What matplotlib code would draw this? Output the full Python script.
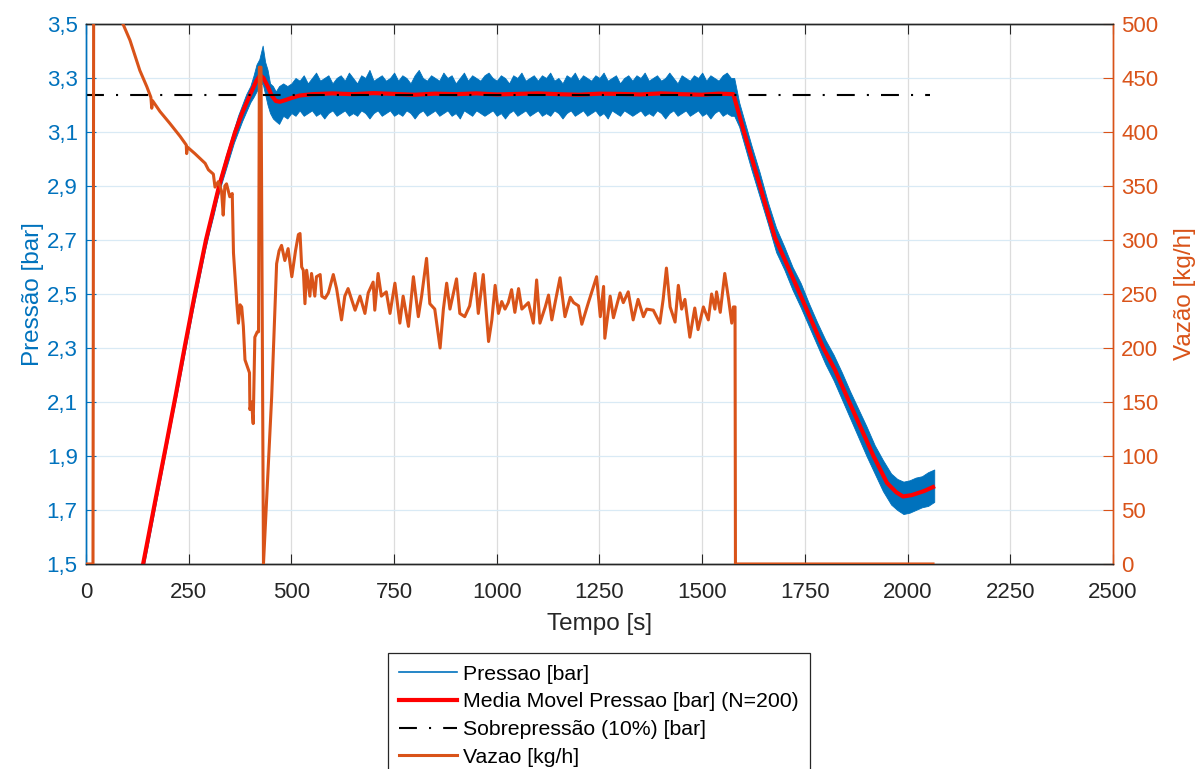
import matplotlib
matplotlib.use("Agg")
import matplotlib.pyplot as plt
from matplotlib.lines import Line2D
from matplotlib.ticker import FuncFormatter, MultipleLocator
import numpy as np

plt.rcParams['font.family'] = ['Liberation Sans', 'DejaVu Sans']

BLUE = '#0072BD'
ORANGE = '#D95319'
DARK = '#262626'

# ---- Pressure: raw signal envelope (upper / lower) ----
t_env = ([139, 150, 160, 170, 180, 190, 200, 210, 220, 230, 240, 250, 260, 270,
          280, 290, 300, 310, 320, 330, 340, 350, 360, 370, 380, 390, 400,
          408, 415, 422, 430, 436, 442, 448, 455, 462, 470, 480, 490]
         + list(range(500, 1571, 10))
         + [1578, 1590, 1605, 1620, 1640, 1660, 1680, 1700, 1720, 1740,
            1760, 1780, 1800, 1820, 1840, 1860, 1880, 1900, 1920, 1940, 1960,
            1975, 1990, 2005, 2020, 2035, 2050, 2065])

p_hi = ([1.52, 1.61, 1.69, 1.765, 1.845, 1.925, 2.005, 2.085, 2.165, 2.245, 2.32,
         2.40, 2.48, 2.56, 2.63, 2.71, 2.77, 2.84, 2.90, 2.955, 3.01, 3.06, 3.11,
         3.16, 3.20, 3.24, 3.27,
         3.31, 3.35, 3.37, 3.42, 3.36, 3.33, 3.28, 3.27, 3.25, 3.27, 3.28, 3.27]
        + [3.28, 3.30, 3.29, 3.31, 3.28, 3.30, 3.32, 3.29, 3.30, 3.31, 3.28, 3.30,
           3.31, 3.29, 3.32, 3.30, 3.28, 3.31, 3.30, 3.33, 3.29, 3.30, 3.31, 3.29,
           3.30, 3.32, 3.29, 3.31, 3.30, 3.28, 3.31, 3.33, 3.30, 3.29, 3.31, 3.30,
           3.29, 3.32, 3.30, 3.31, 3.28, 3.30, 3.32, 3.29, 3.31, 3.30, 3.29, 3.31,
           3.32, 3.30, 3.29, 3.31, 3.30, 3.28, 3.31, 3.30, 3.32, 3.29, 3.30, 3.31,
           3.29, 3.31, 3.30, 3.32, 3.29, 3.30, 3.28, 3.31, 3.30, 3.32, 3.29, 3.31,
           3.30, 3.29, 3.31, 3.30, 3.32, 3.29, 3.30, 3.31, 3.28, 3.30, 3.31, 3.29,
           3.31, 3.30, 3.32, 3.29, 3.30, 3.31, 3.29, 3.30, 3.32, 3.30, 3.28, 3.31,
           3.30, 3.29, 3.31, 3.30, 3.32, 3.29, 3.31, 3.30, 3.29, 3.31, 3.32, 3.30]
        + [3.30, 3.21, 3.13, 3.05, 2.95, 2.84, 2.745, 2.675, 2.60, 2.54,
           2.465, 2.395, 2.33, 2.275, 2.21, 2.14, 2.075, 2.01, 1.94, 1.885, 1.835,
           1.815, 1.805, 1.81, 1.82, 1.825, 1.84, 1.85])

p_lo = ([1.48, 1.565, 1.645, 1.725, 1.805, 1.885, 1.965, 2.045, 2.12, 2.20, 2.28,
         2.36, 2.44, 2.515, 2.59, 2.665, 2.73, 2.79, 2.855, 2.91, 2.96, 3.01, 3.06,
         3.10, 3.14, 3.175, 3.21,
         3.23, 3.25, 3.27, 3.28, 3.24, 3.20, 3.17, 3.15, 3.14, 3.13, 3.16, 3.15]
        + [3.17, 3.16, 3.18, 3.16, 3.17, 3.18, 3.16, 3.17, 3.15, 3.17, 3.18, 3.16,
           3.17, 3.18, 3.16, 3.17, 3.16, 3.18, 3.17, 3.15, 3.17, 3.18, 3.16, 3.17,
           3.18, 3.16, 3.17, 3.16, 3.18, 3.17, 3.15, 3.17, 3.18, 3.16, 3.17, 3.18,
           3.16, 3.17, 3.18, 3.16, 3.17, 3.15, 3.18, 3.17, 3.16, 3.18, 3.17, 3.16,
           3.17, 3.18, 3.16, 3.17, 3.15, 3.17, 3.18, 3.16, 3.17, 3.18, 3.16, 3.17,
           3.18, 3.16, 3.17, 3.16, 3.18, 3.17, 3.15, 3.17, 3.18, 3.16, 3.17, 3.18,
           3.16, 3.17, 3.18, 3.16, 3.17, 3.15, 3.18, 3.17, 3.16, 3.18, 3.17, 3.16,
           3.17, 3.18, 3.16, 3.17, 3.16, 3.18, 3.17, 3.15, 3.17, 3.18, 3.16, 3.17,
           3.18, 3.16, 3.17, 3.18, 3.16, 3.17, 3.15, 3.17, 3.18, 3.16, 3.17, 3.16]
        + [3.16, 3.12, 3.04, 2.96, 2.86, 2.76, 2.655, 2.59, 2.515, 2.45,
           2.38, 2.31, 2.24, 2.18, 2.11, 2.04, 1.97, 1.90, 1.835, 1.77, 1.72,
           1.70, 1.685, 1.69, 1.70, 1.71, 1.715, 1.73])

# ---- Moving average of pressure (N=200) ----
t_ma = [139, 170, 195, 219, 241, 265, 292, 324, 345, 363, 380, 400, 415, 424,
        432, 442, 452, 462, 472, 485, 500, 520, 550, 600, 650, 700, 750, 800,
        850, 900, 950, 1000, 1050, 1100, 1150, 1200, 1250, 1300, 1350, 1400,
        1450, 1500, 1540, 1560, 1576, 1600, 1637, 1677, 1738, 1795, 1823, 1858,
        1917, 1950, 1973, 1989, 2010, 2040, 2062]
p_ma = [1.50, 1.745, 1.94, 2.13, 2.31, 2.50, 2.70, 2.90, 3.01, 3.10, 3.17, 3.24,
        3.29, 3.31, 3.30, 3.27, 3.235, 3.215, 3.212, 3.218, 3.226, 3.235, 3.240,
        3.243, 3.240, 3.244, 3.241, 3.238, 3.242, 3.240, 3.243, 3.239, 3.241,
        3.243, 3.240, 3.238, 3.242, 3.241, 3.239, 3.243, 3.240, 3.238, 3.242,
        3.241, 3.240, 3.11, 2.92, 2.71, 2.50, 2.30, 2.22, 2.10, 1.90, 1.80,
        1.765, 1.75, 1.755, 1.77, 1.785]

# ---- Overpressure limit (10%) ----
t_sp = [0, 2055]
p_sp = [3.237, 3.237]

# ---- Mass flow [kg/h] ----
t_flow = [0, 17, 19, 35, 55, 75, 90, 107, 120, 131, 148, 158, 160, 162, 180, 204,
          229, 244, 245, 247, 265, 290, 298, 310, 314, 322, 326, 330, 334, 338,
          342, 350, 356, 359, 367, 371, 375, 379, 383, 387, 398, 399, 403, 407,
          411, 417, 420, 422, 426, 432, 452, 464, 470, 476, 484, 492, 501, 510,
          517, 521, 525, 529, 533, 537, 545, 549, 557, 561, 570, 574, 582, 590,
          602, 610, 622, 630, 638, 655, 667, 679, 687, 699, 703, 711, 719, 731,
          740, 752, 764, 772, 785, 797, 809, 817, 829, 837, 849, 862, 870, 878,
          886, 902, 910, 922, 934, 947, 955, 967, 980, 988, 996, 1004, 1012, 1020,
          1028, 1036, 1044, 1053, 1061, 1077, 1089, 1097, 1105, 1118, 1126, 1134,
          1142, 1154, 1166, 1179, 1187, 1199, 1207, 1223, 1243, 1252, 1260, 1263,
          1276, 1284, 1300, 1308, 1320, 1332, 1344, 1357, 1365, 1381, 1397, 1405,
          1413, 1422, 1434, 1442, 1450, 1458, 1470, 1482, 1490, 1503, 1515, 1523,
          1531, 1535, 1544, 1555, 1564, 1572, 1576, 1580, 1581, 2062]
v_flow = [0, 0, 650, 620, 570, 530, 500, 485, 470, 457, 442, 432, 422, 429, 419, 408,
          396, 388, 380, 386, 380, 371, 365, 361, 349, 354, 350, 345, 323, 350,
          352, 340, 343, 288, 242, 223, 240, 238, 220, 189, 177, 143, 150, 130,
          210, 215, 215, 460, 460, 0, 155, 278, 290, 295, 281, 292, 266, 290,
          305, 306, 275, 272, 241, 272, 248, 269, 248, 266, 268, 248, 246, 251,
          268, 255, 226, 248, 255, 235, 248, 232, 251, 261, 235, 269, 248, 252,
          232, 260, 223, 248, 220, 266, 229, 248, 283, 241, 236, 200, 236, 260,
          236, 264, 232, 229, 239, 269, 232, 268, 206, 226, 258, 232, 243, 236,
          242, 254, 233, 255, 236, 242, 223, 263, 223, 238, 249, 226,
          242, 265, 229, 247, 242, 239, 222, 242, 266, 229, 257, 209,
          248, 228, 251, 242, 252, 226, 245, 229, 236, 235, 223, 245,
          274, 238, 224, 258, 236, 245, 210, 237, 217, 238, 226, 250,
          236, 252, 233, 269, 246, 223, 238, 238, 0, 0]

fig = plt.figure(figsize=(11.98, 7.69), dpi=100)
ax = fig.add_axes([0.0718, 0.2666, 0.8572, 0.7022])
ax2 = ax.twinx()

# Pressure band, moving average and overpressure line (left axis)
ax.fill_between(t_env, p_lo, p_hi, color=BLUE, linewidth=0.6, zorder=2)
ax.plot(t_ma, p_ma, color='#FF0000', lw=3.0, solid_joinstyle='round', zorder=3)
ax.plot(t_sp, p_sp, color='black', lw=1.5, linestyle=(0, (8.6, 5.8, 1.0, 5.8)),
        zorder=4)

# Mass flow (right axis)
ax2.plot(t_flow, v_flow, color=ORANGE, lw=2.2, solid_joinstyle='round', zorder=3)

# Axes limits and ticks
ax.set_xlim(0, 2500)
ax.set_ylim(1.5, 3.5)
ax2.set_ylim(0, 500)
ax.xaxis.set_major_locator(MultipleLocator(250))
ax.set_yticks(np.arange(1.5, 3.51, 0.2))
ax2.set_yticks(np.arange(0, 501, 50))
ax.yaxis.set_major_formatter(FuncFormatter(lambda v, p: f"{v:.1f}".replace('.', ',')))

tick_kw = dict(direction='in', length=7.5, width=0.8, labelsize=16)
ax.tick_params(axis='x', colors=DARK, top=True, pad=13, **tick_kw)
ax.tick_params(axis='y', colors=BLUE, pad=6, **tick_kw)
ax2.tick_params(axis='y', colors=ORANGE, pad=6, **tick_kw)

for a in (ax, ax2):
    a.spines['top'].set_color(DARK)
    a.spines['bottom'].set_color(DARK)
    a.spines['left'].set_color(BLUE)
    a.spines['right'].set_color(ORANGE)
    for s in a.spines.values():
        s.set_linewidth(1.0)

# Grid
ax.set_axisbelow(True)
ax.xaxis.grid(True, color='#dcdcdc', linewidth=0.9)
ax.yaxis.grid(True, color='#d9eaf5', linewidth=0.9)

ax.set_xlabel('Tempo [s]', fontsize=17.5, color=DARK, labelpad=7)
ax.set_ylabel('Pressão [bar]', fontsize=17.5, color=BLUE, labelpad=2)
ax2.set_ylabel('Vazão [kg/h]', fontsize=17.5, color=ORANGE, labelpad=11)

handles = [
    Line2D([], [], color=BLUE, lw=1.2),
    Line2D([], [], color='#FF0000', lw=3.0),
    Line2D([], [], color='black', lw=1.5, linestyle=(0, (8.6, 5.8, 1.0, 5.8))),
    Line2D([], [], color=ORANGE, lw=2.2),
]
labels = ['Pressao [bar]', 'Media Movel Pressao [bar] (N=200)',
          'Sobrepressão (10%) [bar]', 'Vazao [kg/h]']
leg = fig.legend(handles, labels, loc='upper center', bbox_to_anchor=(0.5, 0.151),
                 borderaxespad=0.0, fontsize=15.3, frameon=True, fancybox=False,
                 edgecolor=DARK, framealpha=1.0, handlelength=2.7,
                 handletextpad=0.3, labelspacing=0.41, borderpad=0.55)
leg.get_frame().set_linewidth(0.9)

fig.savefig('out.png', dpi=100)
